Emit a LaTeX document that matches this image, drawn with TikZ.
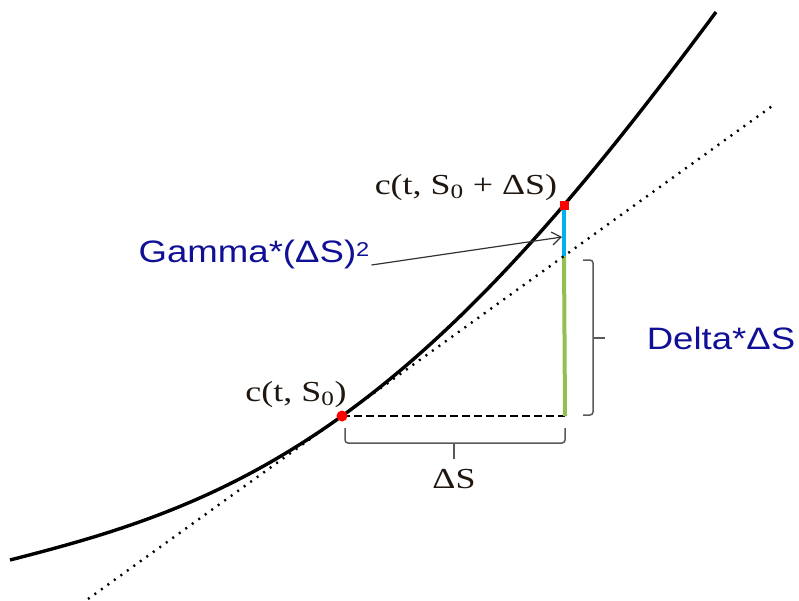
\documentclass[tikz,border=0pt]{standalone}
\usepackage{fontspec}
\usepackage{graphicx}
\usepackage{xcolor}
\usepackage{tikz}
\usetikzlibrary{arrows.meta,positioning}
\newfontfamily\sanslab{Liberation Sans}
\newfontfamily\seriflab{Liberation Serif}
\definecolor{labblue}{RGB}{16,16,150}
\definecolor{gamblue}{RGB}{0,176,240}
\definecolor{delgreen}{RGB}{146,192,80}
\definecolor{mathink}{RGB}{30,22,15}
\newcommand{\stretchx}[1]{\scalebox{1.18}[1]{#1}}
\newcommand{\stretchm}[1]{\scalebox{1.24}[1]{#1}}

\begin{document}
\begin{tikzpicture}[x=1pt,y=-1pt, lab/.style={text=labblue,font=\sanslab\fontsize{31}{31}\selectfont,inner sep=0pt,anchor=base}, mlab/.style={text=mathink,font=\seriflab\fontsize{29}{29}\selectfont,inner sep=0pt,anchor=base}, brc/.style={draw=black!65,line width=1.5pt,rounded corners=3pt}, arr/.style={-{Straight Barb[length=9pt,width=13pt]},line width=1.2pt,draw=black!80}, seg/.style={line width=4pt}]
\useasboundingbox (0,0) rectangle (799,600);
\coordinate (p0) at (342,416); \coordinate (p1) at (564,205); \coordinate (t1) at (564,256); \coordinate (q0) at (565,416);
\coordinate (ta) at (88,599); \coordinate (tb) at (775,104);
\coordinate (b1) at (345,428); \coordinate (b2) at (565,428); \coordinate (bm) at (454,443); \coordinate (btip) at (454,459);
\coordinate (r1) at (583,260); \coordinate (r2) at (583,415); \coordinate (rm) at (593,338); \coordinate (rtip) at (605,338);
\coordinate (gtip) at (562,237);
\draw[line width=2.4pt,dash pattern=on 8pt off 4pt] (p0) -- (q0);
\draw[seg,delgreen] (t1) -- (q0);\draw[seg,gamblue] (p1) -- (t1);
\draw[line width=2.4pt,dash pattern=on 2pt off 6pt] (ta) -- (tb);
\draw[line width=3.4pt] plot[domain=-3.32:3.74,samples=120,variable=\u] ({342+100*\u},{416-71.9*\u-10.568*\u*\u-0.2009*\u*\u*\u+0.1188*\u*\u*\u*\u});
\draw[brc] (b1) |- (bm) -| (b2);\draw[brc] (bm) -- (btip);
\draw[brc] (r1) -| (rm) |- (r2);\draw[brc] (rm) -- (rtip);
\fill[red] (p0) circle (5.5pt);
\node[fill=red,minimum size=9pt,inner sep=0pt] (sq) at (p1) {};
\node[lab] (gam) at (254,262) {\stretchx{Gamma*(ΔS)\raisebox{6pt}{\fontsize{20}{20}\selectfont 2}}};
\node[lab] (del) at (721,349) {\stretchx{Delta*ΔS}};
\node[mlab] (cup) at (466,194) {\stretchm{c(t, S\textsubscript{0} + ΔS)}};
\node[mlab] (clow) at (296,401) {\stretchm{c(t, S\textsubscript{0})}};
\node[mlab] (ds) at (454,488) {\stretchm{ΔS}};
\draw[arr] ([xshift=2pt,yshift=-3pt]gam.base east) -- (gtip);
\end{tikzpicture}
\end{document}
